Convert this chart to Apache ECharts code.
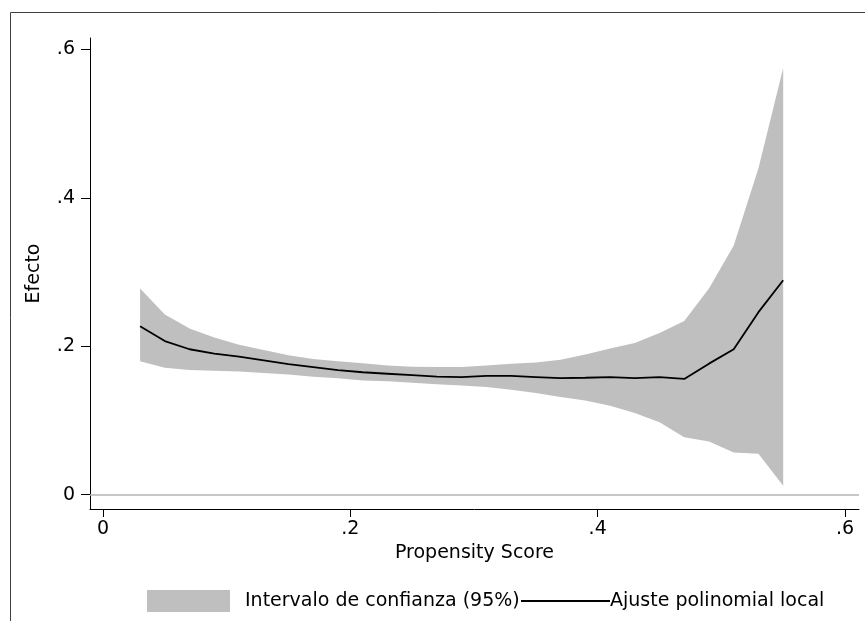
<!DOCTYPE html>
<html>
<head>
<meta charset="utf-8">
<script src="https://cdn.jsdelivr.net/npm/echarts@6/dist/echarts.min.js"></script>
<style>
html,body{margin:0;padding:0;background:#fff;}
#chart{width:865px;height:621px;}
</style>
</head>
<body>
<div id="chart"></div>
<script>
// Propensity score grid
const pscore = [0.03,0.05,0.07,0.09,0.11,0.13,0.15,0.17,0.19,0.21,0.23,0.25,0.27,0.29,0.31,0.33,0.35,0.37,0.39,0.41,0.43,0.45,0.47,0.49,0.51,0.53,0.55];
// Local polynomial fit
const fit = [0.227,0.207,0.196,0.190,0.186,0.181,0.176,0.172,0.168,0.165,0.163,0.161,0.159,0.1585,0.160,0.160,0.1585,0.157,0.1576,0.1585,0.157,0.1585,0.156,0.1766,0.196,0.246,0.289];
// 95% CI bounds
const ciLower = [0.180,0.171,0.168,0.167,0.166,0.164,0.162,0.159,0.157,0.154,0.153,0.151,0.149,0.147,0.145,0.1414,0.137,0.1315,0.127,0.120,0.110,0.0977,0.0775,0.0716,0.057,0.055,0.012];
const ciUpper = [0.278,0.243,0.224,0.212,0.202,0.195,0.188,0.183,0.180,0.177,0.174,0.1725,0.172,0.172,0.174,0.1766,0.178,0.182,0.189,0.197,0.2045,0.218,0.234,0.278,0.336,0.440,0.575];
const xTicks = [0,0.2,0.4,0.6];
const yTicks = [0,0.2,0.4,0.6];
const xTitle = 'Propensity Score';
const yTitle = 'Efecto';
const legendBand = 'Intervalo de confianza (95%)';
const legendLine = 'Ajuste polinomial local';

const FONT = '"DejaVu Sans", sans-serif';
const fmt = v => v === 0 ? '0' : String(v).replace(/^0/, '');

const chart = echarts.init(document.getElementById('chart'), null, {renderer:'canvas'});
const bandData = pscore.map((x,i)=>[x, ciLower[i], ciUpper[i]]);
const fitData = pscore.map((x,i)=>[x, fit[i]]);

function renderBand(params, api){
  if (params.dataIndex !== 0) return null;
  const pts = [];
  for (let i = 0; i < pscore.length; i++) pts.push(api.coord([pscore[i], ciLower[i]]));
  for (let i = pscore.length - 1; i >= 0; i--) pts.push(api.coord([pscore[i], ciUpper[i]]));
  return {type:'polygon', shape:{points:pts}, style:{fill:'#bfbfbf', stroke:null}, silent:true};
}

chart.setOption({
  animation:false,
  backgroundColor:'#ffffff',
  grid:{left:90,right:6,top:38,bottom:112},
  xAxis:{
    type:'value', min:-0.0105, max:0.6113,
    name:xTitle, nameLocation:'middle', nameGap:31,
    nameTextStyle:{fontFamily:FONT,fontSize:19,color:'#000'},
    axisLine:{show:true,onZero:false,lineStyle:{color:'#000',width:1}},
    axisTick:{show:true,length:8,customValues:xTicks,lineStyle:{color:'#000',width:1}},
    axisLabel:{customValues:xTicks,formatter:fmt,fontFamily:FONT,fontSize:19,color:'#000',margin:11},
    splitLine:{show:false}
  },
  yAxis:{
    type:'value', min:-0.0193, max:0.6155,
    name:yTitle, nameLocation:'middle', nameGap:46, nameRotate:90,
    nameTextStyle:{fontFamily:FONT,fontSize:19,color:'#000'},
    axisLine:{show:true,onZero:false,lineStyle:{color:'#000',width:1}},
    axisTick:{show:true,length:9,customValues:yTicks,lineStyle:{color:'#000',width:1}},
    axisLabel:{customValues:yTicks,formatter:fmt,fontFamily:FONT,fontSize:19,color:'#000',margin:15},
    splitLine:{show:false}
  },
  series:[
    {
      name:legendBand, type:'custom', data:bandData, renderItem:renderBand,
      encode:{x:0,y:[1,2]}, silent:true, z:1, clip:true
    },
    {
      name:legendLine, type:'line', data:fitData, symbol:'none',
      lineStyle:{color:'#000',width:1.8}, z:3,
      markLine:{
        silent:true, symbol:'none', label:{show:false},
        lineStyle:{color:'#b5b5b5',width:1.6,type:'solid'},
        data:[{yAxis:0}]
      }
    }
  ],
  graphic:[
    {type:'rect', shape:{x:10.5,y:12.5,width:900,height:700}, style:{fill:null,stroke:'#404040',lineWidth:1}, silent:true},
    {type:'rect', shape:{x:147,y:590,width:83,height:22}, style:{fill:'#bfbfbf'}},
    {type:'text', x:245, y:601, style:{text:legendBand, font:'19px "DejaVu Sans"', fill:'#000', textVerticalAlign:'middle'}},
    {type:'line', shape:{x1:521,y1:601,x2:610,y2:601}, style:{stroke:'#000',lineWidth:2}},
    {type:'text', x:610, y:601, style:{text:legendLine, font:'19px "DejaVu Sans"', fill:'#000', textVerticalAlign:'middle'}}
  ]
});
</script>
</body>
</html>
